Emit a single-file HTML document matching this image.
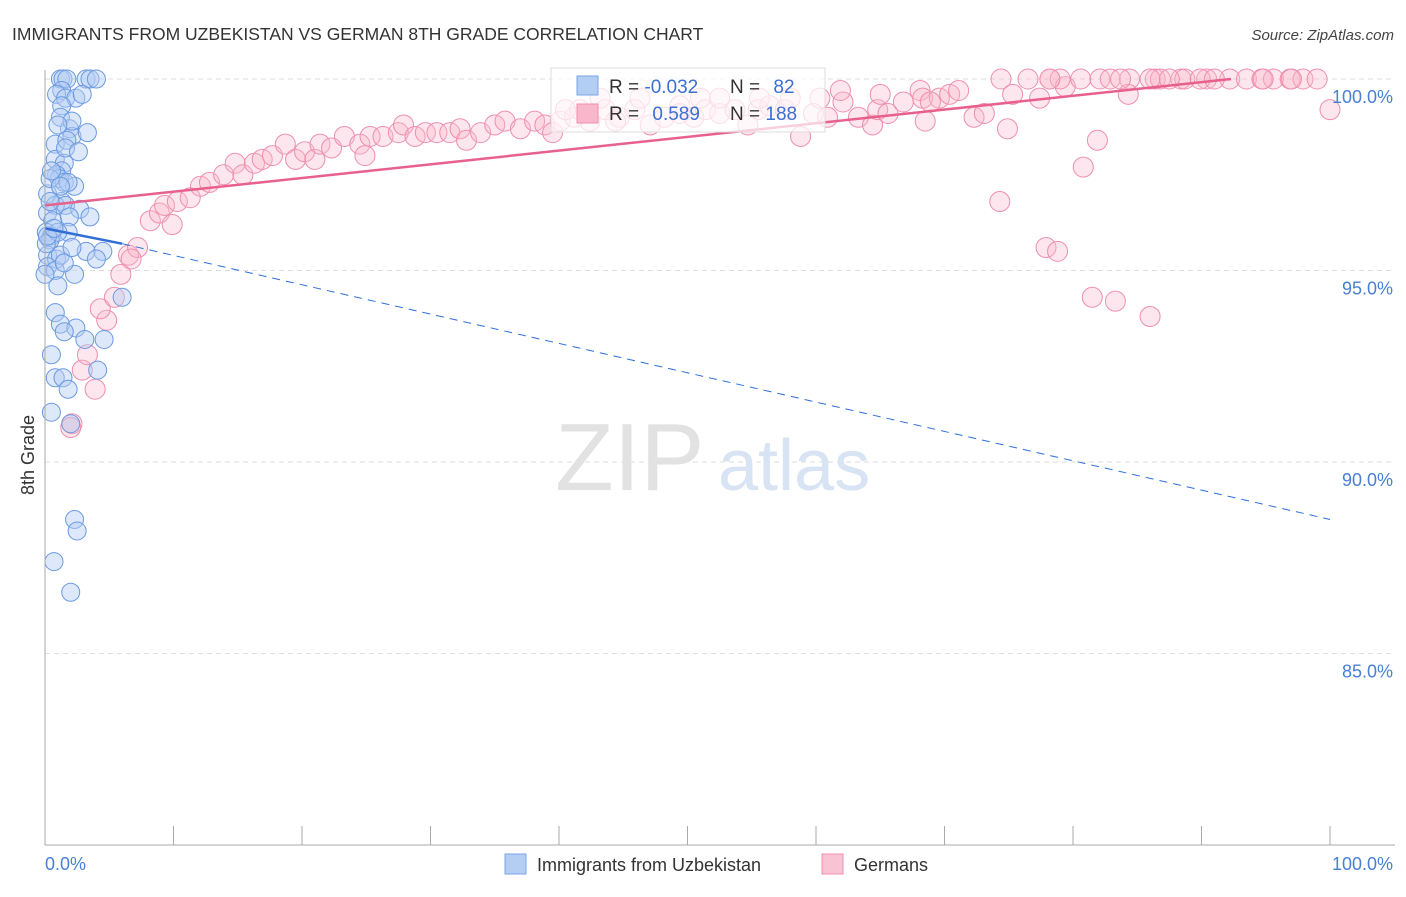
<!DOCTYPE html>
<html><head><meta charset="utf-8">
<style>
body{margin:0;background:#fff;font-family:"Liberation Sans",sans-serif;}
svg text{font-family:"Liberation Sans",sans-serif;}
</style></head>
<body>
<svg id="chart" width="1406" height="892" xmlns="http://www.w3.org/2000/svg">
<text x="12" y="40" font-size="17.5" fill="#333">IMMIGRANTS FROM UZBEKISTAN VS GERMAN 8TH GRADE CORRELATION CHART</text>
<text x="1394" y="40" font-size="15" fill="#444" text-anchor="end" font-style="italic">Source: ZipAtlas.com</text>
<g id="grid"></g>
<text x="555" y="490" font-size="96" fill="#e2e2e2" font-family="Liberation Serif">ZIP</text>
<text x="718" y="490" font-size="72" fill="#d8e3f3">atlas</text>
<g id="pts"></g>
<g id="lines"></g>
<line x1="45" y1="70" x2="45" y2="845" stroke="#aaa"/>
<line x1="45" y1="845" x2="1395" y2="845" stroke="#aaa"/>
<g id="axes"></g>
<text transform="translate(34,455) rotate(-90)" font-size="18" fill="#333" text-anchor="middle">8th Grade</text>
<text x="45" y="870" font-size="18" fill="#4a7fd4">0.0%</text>
<text x="1393" y="870" font-size="18" fill="#4a7fd4" text-anchor="end">100.0%</text>
<g>
<rect x="551" y="68" width="274" height="64" fill="#fff" fill-opacity="0.7" stroke="#ddd"/>
<rect x="577" y="76" width="21" height="19" fill="#b3cdf3" stroke="#7aa6e6"/>
<rect x="577" y="104" width="21" height="19" fill="#f8b7cb" stroke="#ee8fae"/>
<text x="609" y="93" font-size="19" fill="#333">R = <tspan fill="#3b6fd0">-0.032</tspan></text>
<text x="730" y="93" font-size="19" fill="#333">N = <tspan fill="#3b6fd0" dx="8">82</tspan></text>
<text x="609" y="120" font-size="19" fill="#333">R = <tspan fill="#3b6fd0" dx="8">0.589</tspan></text>
<text x="730" y="120" font-size="19" fill="#333">N = <tspan fill="#3b6fd0">188</tspan></text>
</g>
<g>
<rect x="505" y="854" width="21" height="20" fill="#b3cdf3" stroke="#7aa6e6"/>
<text x="537" y="871" font-size="18" fill="#333">Immigrants from Uzbekistan</text>
<rect x="822" y="854" width="21" height="20" fill="#f8c3d3" stroke="#ee8fae"/>
<text x="854" y="871" font-size="18" fill="#333">Germans</text>
</g>
</svg>
<script>
const yTicks=[100,95,90,85];
const yTickLabels=["100.0%","95.0%","90.0%","85.0%"];
const xTicks=[0,10,20,30,40,50,60,70,80,90,100];
const blueX=[1.2,1.4,1.7,3.2,3.5,4.0,1.3,0.9,1.6,2.4,2.9,1.3,1.2,1.9,2.1,0.8,1.7,0.8,1.5,1.3,0.9,1.1,1.5,2.3,1.8,0.2,1.3,0.8,1.6,2.7,0.2,0.6,1.9,3.5,0.1,0.5,1.8,0.4,3.2,4.5,0.2,0.9,4.0,0.2,0.8,2.3,1.0,6.0,0.8,1.2,2.4,1.5,3.1,4.6,0.5,0.8,1.4,4.1,1.8,0.5,2.0,2.3,2.5,0.7,2.0,0.4,1.2,0.1,0.0,1.2,0.4,1.0,1.5,2.1,0.5,1.6,2.6,3.3,2.1,1.0,0.2,0.7];
const blueY=[100,100,100,100,100,100,99.7,99.6,99.5,99.5,99.6,99.3,99.0,98.7,98.5,98.3,98.4,97.9,97.8,97.6,97.5,97.4,97.3,97.2,97.3,97.0,96.8,96.7,96.7,96.6,96.5,96.3,96.4,96.4,96.0,95.9,96.0,95.8,95.5,95.5,95.4,95.3,95.3,95.1,95.0,94.9,94.6,94.3,93.9,93.6,93.5,93.4,93.2,93.2,92.8,92.2,92.2,92.4,91.9,91.3,91.0,88.5,88.2,87.4,86.6,97.4,97.2,95.7,94.9,95.4,96.8,96.0,95.2,95.6,97.6,98.2,98.1,98.6,98.9,98.8,95.9,96.1];
const pinkX=[2.1,2.0,3.9,2.9,3.3,4.8,4.3,5.4,5.9,6.5,7.2,6.7,8.2,8.9,9.9,9.3,10.3,11.3,12.1,12.8,13.9,14.8,15.4,16.3,16.9,17.7,18.7,19.5,20.2,21.0,21.4,22.3,23.3,24.5,24.9,25.3,26.3,27.5,27.9,28.8,29.6,30.5,31.5,32.3,32.8,33.9,35.0,35.8,37.0,38.1,38.9,39.5,40.1,41.2,42.4,43.6,44.7,45.9,47.1,48.2,49.4,50.5,51.4,52.5,53.7,54.7,55.5,56.4,57.6,58.8,59.8,60.9,62.1,63.3,64.4,64.8,65.6,66.8,68.1,68.3,68.5,69.6,70.4,71.1,72.3,73.1,74.4,75.3,76.5,77.4,78.2,79.4,80.6,82.1,82.9,84.4,86.4,86.8,88.4,90.4,92.2,93.5,94.7,95.6,96.9,97.9,99.0,100.0,84.3,74.9,81.9,80.8,74.3,77.9,78.8,81.5,83.3,86.0,79.0,83.7,88.7,94.8,97.0,89.9,86.0,87.5,78.2,91.0,51.0,49.4,52.5,46.3,43.2,41.6,55.6,58.0,60.3,61.9,65.0,68.9,40.5,44.4];
const pinkY=[91.0,90.9,91.9,92.4,92.8,93.7,94.0,94.3,94.9,95.4,95.6,95.3,96.3,96.5,96.2,96.7,96.8,96.9,97.2,97.3,97.5,97.8,97.5,97.8,97.9,98.0,98.3,97.9,98.1,97.9,98.3,98.2,98.5,98.3,98.0,98.5,98.5,98.6,98.8,98.5,98.6,98.6,98.6,98.7,98.4,98.6,98.8,98.9,98.7,98.9,98.8,98.6,98.9,99.0,98.9,99.2,99.0,99.2,98.8,99.0,99.3,99.0,99.2,99.1,99.2,98.8,99.2,99.3,99.2,98.5,99.1,99.0,99.4,99.0,98.8,99.2,99.1,99.4,99.7,99.5,98.9,99.5,99.6,99.7,99.0,99.1,100,99.6,100,99.5,100,99.8,100,100,100,100,100,100,100,100,100,100,100,100,100,100,100,99.2,99.6,98.7,98.4,97.7,96.8,95.6,95.5,94.3,94.2,93.8,100,100,100,100,100,100,100,100,100,100,99.5,99.1,99.5,99.5,99.5,99.2,99.5,99.5,99.5,99.7,99.6,99.4,99.2,98.9];
const blueTrend=[[0,96.1],[6.0,95.7],[100,88.5]];
const pinkTrend=[[0,96.7],[92.3,100]];
const X0=45,X1=1330,Y100=79,PX5=191.5;
function sx(v){return X0+(X1-X0)*v/100;}
function sy(v){return Y100+(100-v)*PX5/5;}
const NS="http://www.w3.org/2000/svg";
function mk(tag,attrs,parent){const e=document.createElementNS(NS,tag);for(const k in attrs)e.setAttribute(k,attrs[k]);parent.appendChild(e);return e;}
const grid=document.getElementById('grid'),axes=document.getElementById('axes');
yTicks.forEach((t,i)=>{
  const l=mk('line',{x1:45,x2:1395,y1:sy(t),y2:sy(t),stroke:'#ddd','stroke-dasharray':'5,4'},grid);
  
  
  const tx=mk('text',{x:1393,y:sy(t)+24,'font-size':18,fill:'#4a7fd4','text-anchor':'end'},axes);
  tx.textContent=yTickLabels[i];
  
  
});
xTicks.forEach(t=>{
  const l=mk('line',{x1:sx(t),x2:sx(t),y1:826,y2:845,stroke:'#aaa'},axes);
  
  
});
const pts=document.getElementById('pts');
pinkX.forEach((x,i)=>{
  const c=mk('circle',{cx:sx(x),cy:sy(pinkY[i]),r:10,fill:'#f8b7cb','fill-opacity':0.35,stroke:'#ee8fae','stroke-width':1},pts);
  
  
});
blueX.forEach((x,i)=>{
  const c=mk('circle',{cx:sx(x),cy:sy(blueY[i]),r:9,fill:'#b3cdf3','fill-opacity':0.45,stroke:'#6a9ae0','stroke-width':1},pts);
  
  
});
const lines=document.getElementById('lines');
const b1=mk('line',{x1:sx(blueTrend[0][0]),y1:sy(blueTrend[0][1]),x2:sx(blueTrend[1][0]),y2:sy(blueTrend[1][1]),stroke:'#2f6fd6','stroke-width':2.5},lines);


const b2=mk('line',{x1:sx(blueTrend[1][0]),y1:sy(blueTrend[1][1]),x2:sx(blueTrend[2][0]),y2:sy(blueTrend[2][1]),stroke:'#2f6fd6','stroke-width':1,'stroke-dasharray':'8,6'},lines);


const p1=mk('line',{x1:sx(pinkTrend[0][0]),y1:sy(pinkTrend[0][1]),x2:sx(pinkTrend[1][0]),y2:sy(pinkTrend[1][1]),stroke:'#e8608c','stroke-width':2.5},lines);


</script>
</body></html>
